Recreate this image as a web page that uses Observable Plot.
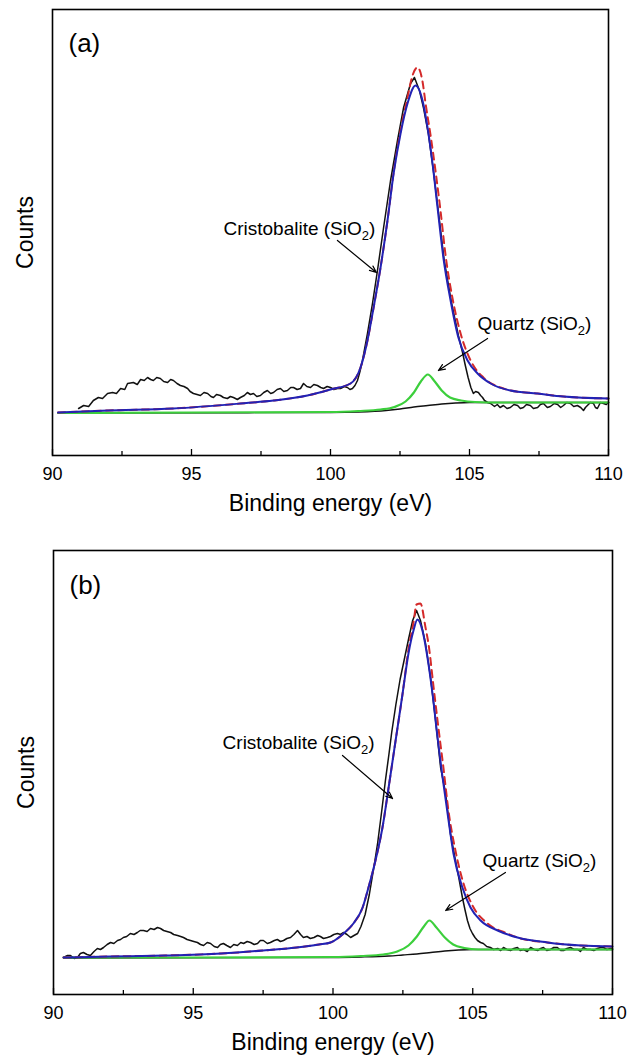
<!DOCTYPE html>
<html>
<head>
<meta charset="utf-8">
<script src="https://cdn.jsdelivr.net/npm/d3@7"></script>
<script src="https://cdn.jsdelivr.net/npm/@observablehq/plot@0.6"></script>
<style>
  html, body { margin: 0; padding: 0; background: #fff; }
  #chart { width: 635px; }
  #chart svg { display: block; }
</style>
</head>
<body>
<div id="chart"></div>
<script>
// ---------- axis ticks ----------
const xMajor = [90, 95, 100, 105, 110];
const xMinor = [92.5, 97.5, 102.5, 107.5];
const xTitle = "Binding energy (eV)";
const yTitle = "Counts";

// ---------- panel (a): [binding energy eV, counts] ----------
const aExp = [[90.94,47],[91.12,50],[91.3,49],[91.47,55],[91.65,58],[91.8,57],[91.98,62],[92.16,63],[92.3,62],[92.45,67],[92.6,66],[92.7,72],[92.91,73],[93.05,71],[93.17,76],[93.3,75],[93.42,78],[93.53,76],[93.63,75],[93.75,78],[93.88,77],[94.0,74],[94.14,73],[94.25,76],[94.35,75],[94.48,72],[94.6,70],[94.73,69],[94.86,67],[94.95,64],[95.07,62],[95.2,61],[95.32,60],[95.45,63],[95.58,62],[95.7,59],[95.79,58],[95.9,61],[96.04,60],[96.15,58],[96.29,57],[96.4,59],[96.51,58],[96.65,56],[96.76,58],[96.9,60],[97.01,63],[97.12,61],[97.23,62],[97.35,59],[97.48,60],[97.6,63],[97.73,65],[97.85,62],[97.95,63],[98.08,66],[98.2,67],[98.32,64],[98.45,65],[98.57,68],[98.67,68],[98.8,66],[98.92,67],[99.03,72],[99.15,69],[99.28,68],[99.4,71],[99.53,70],[99.65,68],[99.75,67],[99.88,69],[100.0,68],[100.12,66],[100.25,67],[100.36,67],[100.5,69],[100.61,68],[100.7,66],[100.79,67],[100.88,70],[100.97,75],[101.06,84],[101.15,95],[101.33,122],[101.51,152],[101.69,185],[101.91,228],[102.16,275],[102.41,315],[102.63,348],[102.88,372],[103.02,378],[103.2,365],[103.35,347],[103.52,322],[103.7,285],[103.88,244],[104.09,195],[104.35,153],[104.6,120],[104.75,103],[104.85,90],[104.95,78],[105.05,68],[105.14,62],[105.22,64],[105.32,63],[105.4,60],[105.47,58],[105.54,55],[105.65,53],[105.76,52],[105.9,49],[106.0,51],[106.1,48],[106.22,50],[106.35,47],[106.47,48],[106.6,51],[106.73,50],[106.83,47],[106.94,48],[107.05,51],[107.19,50],[107.3,47],[107.45,48],[107.55,51],[107.66,52],[107.8,48],[107.91,49],[108.05,52],[108.17,51],[108.28,48],[108.38,50],[108.5,53],[108.63,52],[108.75,49],[108.88,50],[109.0,48],[109.1,45],[109.17,48],[109.24,50],[109.35,53],[109.46,52],[109.53,48],[109.6,47],[109.71,53],[109.82,52],[109.92,51],[110.0,53]];
const aCrist = [[90.2,43],[92,45],[94.35,47],[96.76,52],[97.95,55],[99.17,60],[100,66],[100.72,72],[101.08,88],[101.33,115],[101.55,148],[101.8,188],[102.05,235],[102.27,282],[102.52,322],[102.77,352],[103.06,370],[103.31,355],[103.49,328],[103.67,292],[103.85,248],[104.06,198],[104.32,155],[104.6,118],[104.93,95],[105.29,82],[105.76,72],[106.47,65],[107.45,62],[108.38,59],[110,57]];
const aEnv = [[90.2,43],[92,45],[94.35,47],[96.76,52],[97.95,55],[99.17,60],[100,66],[100.72,72],[101.08,88],[101.33,115],[101.55,148],[101.8,188],[102.05,235],[102.27,283],[102.52,325],[102.77,358],[102.95,380],[103.13,388],[103.31,374],[103.42,352],[103.6,320],[103.78,284],[103.96,244],[104.14,200],[104.39,157],[104.68,122],[105.04,95],[105.5,78],[106.22,67],[106.47,65],[107.45,62],[108.38,59],[110,57]];
const aQuartz = [[90.2,42.5],[95,43],[100,43.5],[101,44.5],[101.8,46],[102.3,48.5],[102.7,54],[103,63],[103.25,74],[103.5,81],[103.75,74],[104,65],[104.3,58],[104.7,55],[105.2,53.5],[106,53],[110,53]];
const aBg = [[90.2,42.5],[100,43],[101,43.5],[102,45],[102.5,46.5],[103,48.5],[103.5,50],[104,51.5],[104.5,52.5],[105,53],[106,53],[110,53]];
const aNotes = [
  {text: "Cristobalite (SiO₂)", x: 96.15, y: 227, x1: 100.25, y1: 215, x2: 101.65, y2: 183},
  {text: "Quartz (SiO₂)", x: 105.29, y: 132, x1: 105.65, y1: 117, x2: 103.88, y2: 85}
];

// ---------- panel (b) ----------
const bExp = [[90.36,37],[90.5,39],[90.61,39],[90.75,36],[90.86,37],[90.96,41],[91.07,42],[91.2,40],[91.32,39],[91.45,43],[91.57,46],[91.68,45],[91.79,47],[91.92,50],[92.04,52],[92.16,51],[92.29,54],[92.4,55],[92.5,57],[92.62,58],[92.75,61],[92.88,60],[93.0,62],[93.1,64],[93.22,64],[93.35,63],[93.47,66],[93.6,65],[93.72,67],[93.83,66],[93.94,64],[94.06,63],[94.19,62],[94.3,60],[94.44,59],[94.55,58],[94.65,57],[94.78,55],[94.9,54],[95.02,53],[95.15,52],[95.26,50],[95.37,49],[95.5,52],[95.62,51],[95.75,48],[95.87,47],[95.97,50],[96.08,51],[96.2,49],[96.33,47],[96.45,50],[96.58,49],[96.7,52],[96.8,51],[96.93,53],[97.05,52],[97.18,50],[97.3,51],[97.4,54],[97.51,54],[97.65,51],[97.76,52],[97.9,54],[98.01,55],[98.12,53],[98.23,54],[98.35,56],[98.48,57],[98.6,60],[98.73,64],[98.84,60],[98.94,57],[99.07,58],[99.19,56],[99.32,57],[99.45,59],[99.55,58],[99.66,56],[99.8,57],[99.91,58],[100.03,60],[100.16,61],[100.27,60],[100.38,62],[100.5,60],[100.63,57],[100.75,59],[100.88,61],[101.0,68],[101.15,80],[101.3,100],[101.45,125],[101.6,152],[101.75,185],[101.88,215],[102.0,240],[102.1,262],[102.25,290],[102.4,315],[102.55,335],[102.7,355],[102.85,374],[102.99,384],[103.13,374],[103.31,351],[103.49,317],[103.67,274],[103.85,227],[104.03,201],[104.2,161],[104.38,134],[104.5,117],[104.63,97],[104.72,85],[104.81,74],[104.9,66],[104.99,61],[105.08,57],[105.17,54],[105.28,52],[105.38,51],[105.5,48],[105.63,47],[105.75,45],[105.89,46],[106.0,44],[106.1,47],[106.22,45],[106.35,44],[106.47,46],[106.6,47],[106.7,44],[106.82,45],[106.95,43],[107.07,47],[107.2,45],[107.32,44],[107.43,46],[107.53,47],[107.65,44],[107.78,45],[107.9,47],[108.03,47],[108.15,44],[108.25,44],[108.37,46],[108.5,47],[108.62,45],[108.75,45],[108.85,43],[108.96,47],[109.08,45],[109.21,45],[109.33,44],[109.46,46],[109.57,47],[109.68,47],[109.8,45],[109.93,46],[110,46]];
const bCrist = [[90.36,37],[92,38],[94,39],[96,41],[97.5,44],[98.7,47],[99.5,50],[99.91,52],[100.38,61],[100.73,71],[101.06,87],[101.27,107],[101.52,134],[101.77,167],[101.99,207],[102.24,254],[102.49,301],[102.7,341],[102.88,364],[103.02,375],[103.2,364],[103.38,337],[103.56,301],[103.74,257],[103.92,217],[104.1,181],[104.31,141],[104.63,107],[104.92,87],[105.28,74],[105.89,64],[106.6,57],[107.67,52],[108.86,49],[110,48]];
const bEnv = [[90.36,37],[92,38],[94,39],[96,41],[97.5,44],[98.7,47],[99.5,50],[99.91,52],[100.38,61],[100.73,71],[101.06,87],[101.27,107],[101.52,134],[101.77,167],[101.99,207],[102.24,254],[102.49,301],[102.7,345],[102.88,372],[102.99,390],[103.13,391],[103.31,367],[103.42,350],[103.6,307],[103.77,267],[103.95,227],[104.13,184],[104.38,144],[104.67,111],[105.03,87],[105.53,71],[106.24,61],[106.6,57],[107.67,52],[108.86,49],[110,48]];
const bQuartz = [[90.36,37],[95,37],[100,37.5],[101,38.5],[101.8,40],[102.3,43],[102.7,49],[103,58],[103.25,68],[103.45,74],[103.7,67],[104,57],[104.3,50],[104.7,46.5],[105.2,45],[106,45],[110,45]];
const bBg = [[90.36,36.5],[100,37],[101,37.5],[102,38.5],[102.5,39.5],[103,40.5],[103.5,42],[104,43.5],[104.5,44.5],[105,45],[106,45],[110,45]];
const bNotes = [
  {text: "Cristobalite (SiO₂)", x: 96.05, y: 252, x1: 100.34, y1: 239, x2: 102.13, y2: 196},
  {text: "Quartz (SiO₂)", x: 105.35, y: 134, x1: 106.17, y1: 122, x2: 104.03, y2: 84}
];

const FONT = "'Liberation Sans', Arial, Helvetica, sans-serif";

function panel(cfg) {
  const X = d => d[0], Y = d => d[1];
  const frameH = cfg.height - cfg.mt - cfg.mb;
  return Plot.plot({
    width: 635,
    height: cfg.height,
    marginTop: cfg.mt, marginBottom: cfg.mb, marginLeft: cfg.ml, marginRight: cfg.mr,
    style: {fontFamily: FONT, background: "#fff", color: "#000", overflow: "visible"},
    x: {domain: [90, 110]},
    y: {domain: [0, cfg.yMax], axis: null},
    marks: [
      Plot.ruleX(xMajor, {x: d => d, insetTop: frameH - 6, stroke: "#000", strokeWidth: 1.3}),
      Plot.ruleX(xMinor, {x: d => d, insetTop: frameH - 4, stroke: "#000", strokeWidth: 1.3}),
      Plot.axisX(xMajor, {tickSize: 0, tickPadding: 11.5, fontSize: 18, label: null, tickFormat: d => String(d)}),
      Plot.line(cfg.exp, {x: X, y: Y, stroke: "#111", strokeWidth: 1.5, strokeLinejoin: "round"}),
      Plot.line(cfg.bg, {x: X, y: Y, stroke: "#111", strokeWidth: 1.3, curve: "monotone-x"}),
      Plot.line(cfg.quartz, {x: X, y: Y, stroke: "#3ccf3c", strokeWidth: 2.2, curve: "monotone-x"}),
      Plot.line(cfg.env, {x: X, y: Y, stroke: "#d42a2a", strokeWidth: 2, strokeDasharray: "7,5", curve: "monotone-x"}),
      Plot.line(cfg.crist, {x: X, y: Y, stroke: "#2222b4", strokeWidth: 2, curve: "monotone-x"}),
      Plot.arrow(cfg.notes, {x1: "x1", y1: "y1", x2: "x2", y2: "y2", stroke: "#000", strokeWidth: 1.2, headLength: 9, headAngle: 45}),
      Plot.text(cfg.notes, {x: "x", y: "y", text: "text", textAnchor: "start", fontSize: 19, fill: "#000"}),
      Plot.text([cfg.tag], {frameAnchor: "top-left", dx: 16, dy: cfg.tagDy, fontSize: 26, textAnchor: "start", lineAnchor: "middle", fill: "#000"}),
      Plot.text([xTitle], {frameAnchor: "bottom", dy: 48, fontSize: 23, lineAnchor: "middle", textAnchor: "middle", fill: "#000"}),
      Plot.text([yTitle], {frameAnchor: "left", dx: -27, rotate: -90, fontSize: 23, lineAnchor: "middle", textAnchor: "middle", fill: "#000"}),
      Plot.frame({stroke: "#000", strokeWidth: 1.6})
    ]
  });
}

function subscript(svg) {
  svg.querySelectorAll("text").forEach(t => {
    const s = t.textContent;
    if (!s.includes("₂")) return;
    const [before, after] = s.split("₂");
    t.textContent = before;
    const sub = document.createElementNS("http://www.w3.org/2000/svg", "tspan");
    sub.setAttribute("font-size", "13");
    sub.setAttribute("dy", "5");
    sub.textContent = "2";
    const rest = document.createElementNS("http://www.w3.org/2000/svg", "tspan");
    rest.setAttribute("dy", "-5");
    rest.textContent = after;
    t.appendChild(sub);
    t.appendChild(rest);
  });
}

const chart = document.getElementById("chart");
const pa = panel({height: 520, mt: 9, mb: 65, ml: 52, mr: 27, yMax: 446,
  exp: aExp, crist: aCrist, env: aEnv, quartz: aQuartz, bg: aBg, notes: aNotes, tag: "(a)", tagDy: 34});
const pb = panel({height: 537, mt: 30, mb: 63, ml: 53, mr: 23, yMax: 444,
  exp: bExp, crist: bCrist, env: bEnv, quartz: bQuartz, bg: bBg, notes: bNotes, tag: "(b)", tagDy: 35});
subscript(pa); subscript(pb);
chart.appendChild(pa);
chart.appendChild(pb);
</script>
</body>
</html>
